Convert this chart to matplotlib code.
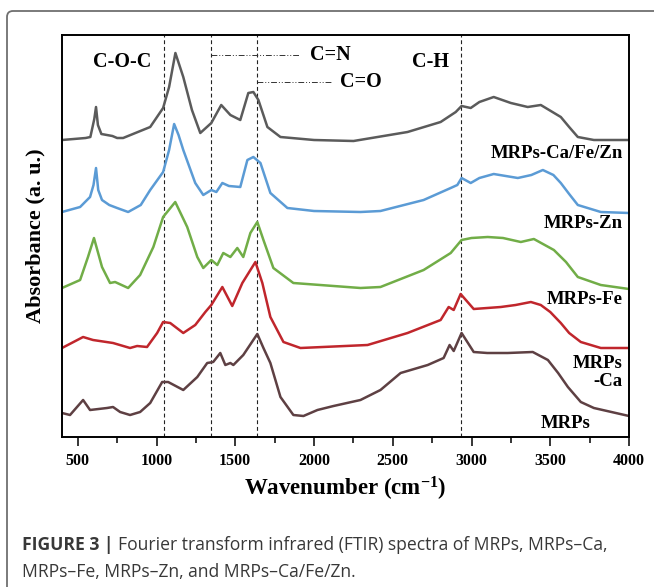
import numpy as np
import matplotlib
matplotlib.use('Agg')
import matplotlib.pyplot as plt
import matplotlib.ticker as ticker
from matplotlib.patches import FancyBboxPatch

# wavenumber (cm-1) / absorbance (a.u., offset already included)
wn_cafezn = [400, 550, 580, 605, 616, 628, 650, 720, 750, 788, 960, 1042, 1080, 1120, 1170, 1225, 1278,
             1348, 1411, 1469, 1532, 1583, 1615, 1647, 1704, 1787, 2000, 2251, 2594, 2804, 2900, 2937,
             2995, 3050, 3141, 3250, 3357, 3440, 3567, 3620, 3675, 3777, 4000]
ab_cafezn = [297, 299, 300, 318, 330, 312, 303, 301, 299, 299, 310, 329, 350, 384, 360, 327, 304,
             314, 332, 322, 317, 344, 345, 337, 310, 300, 297, 296, 305, 315, 325, 331,
             329, 335, 340, 334, 330, 332, 320, 310, 300, 297, 297]

wn_zn = [400, 515, 578, 600, 616, 630, 654, 700, 750, 820, 900, 960, 1042, 1080, 1112, 1140, 1170, 1246,
         1297, 1348, 1380, 1418, 1460, 1532, 1577, 1615, 1660, 1723, 1831, 2000, 2295, 2422, 2696, 2868,
         2910, 2937, 2995, 3050, 3141, 3294, 3380, 3453, 3520, 3567, 3620, 3675, 3821, 4000]
ab_zn = [225, 230, 240, 252, 269, 247, 237, 232, 229, 225, 232, 247, 265, 287, 313, 302, 287, 254,
         242, 247, 245, 254, 251, 250, 277, 280, 274, 244, 229, 226, 225, 226, 237, 249,
         252, 259, 254, 259, 263, 259, 262, 267, 262, 254, 243, 232, 225, 224]

wn_fe = [400, 515, 565, 603, 654, 705, 737, 820, 896, 980, 1042, 1119, 1195, 1259, 1297, 1348, 1386,
         1424, 1469, 1513, 1551, 1596, 1640, 1679, 1742, 1869, 2295, 2422, 2696, 2868, 2937, 3000,
         3103, 3200, 3313, 3396, 3523, 3600, 3675, 3821, 4000]
ab_fe = [149, 157, 180, 199, 170, 154, 155, 149, 162, 190, 220, 235, 210, 180, 169, 177, 172,
         184, 180, 189, 180, 204, 215, 197, 169, 154, 149, 150, 167, 184, 197, 199,
         200, 199, 195, 198, 187, 175, 160, 152, 148]

wn_ca = [400, 534, 597, 724, 832, 877, 940, 1004, 1042, 1087, 1170, 1246, 1310, 1348, 1418, 1481,
         1545, 1628, 1672, 1723, 1806, 1914, 2340, 2594, 2804, 2855, 2887, 2931, 3014, 3100, 3186,
         3280, 3377, 3440, 3500, 3567, 3620, 3694, 3821, 4000]
ab_ca = [89, 100, 97, 94, 89, 91, 90, 104, 115, 114, 104, 112, 125, 132, 150, 131,
         154, 175, 154, 120, 95, 89, 92, 104, 117, 130, 127, 143, 128, 129, 130,
         132, 135, 132, 125, 114, 104, 95, 89, 89]

wn_mrps = [400, 451, 534, 578, 686, 724, 769, 832, 896, 960, 1036, 1074, 1170, 1259, 1322, 1360, 1405,
           1437, 1469, 1488, 1551, 1640, 1679, 1723, 1787, 1869, 1933, 2022, 2124, 2295, 2422, 2550,
           2722, 2823, 2861, 2887, 2937, 3014, 3100, 3230, 3389, 3485, 3550, 3612, 3694, 3777, 4000]
ab_mrps = [24, 22, 37, 27, 29, 30, 25, 22, 25, 34, 55, 55, 47, 60, 74, 75, 84,
           72, 74, 72, 82, 103, 89, 74, 40, 22, 21, 27, 31, 37, 47, 64,
           72, 79, 92, 86, 104, 85, 84, 84, 85, 77, 64, 50, 35, 29, 21]

band_lines = [1045, 1345, 1640, 2935]

plt.rcParams['font.family'] = ['Liberation Serif', 'DejaVu Serif']
plt.rcParams['font.weight'] = 'bold'
plt.rcParams['axes.labelweight'] = 'bold'
plt.rcParams['mathtext.fontset'] = 'custom'
plt.rcParams['mathtext.rm'] = 'Liberation Serif:bold'
plt.rcParams['mathtext.bf'] = 'Liberation Serif:bold'
plt.rcParams['mathtext.default'] = 'bf'

fig = plt.figure(figsize=(6.54, 5.87), dpi=100)
ax = fig.add_axes([62/654, 1-437/587, 567/654, 402/587])

series = [
    (wn_cafezn, ab_cafezn, '#5b5b5b'),
    (wn_zn, ab_zn, '#5b9bd5'),
    (wn_fe, ab_fe, '#71ad47'),
    (wn_ca, ab_ca, '#c0262c'),
    (wn_mrps, ab_mrps, '#5e4043'),
]
for x, y, c in series:
    ax.plot(x, y, color=c, lw=1.8, solid_joinstyle='round')

for b in band_lines:
    ax.axvline(b, color='#222222', lw=0.8, ls=(0, (3.5, 2.5)), zorder=1)

# assignment markers
ax.plot([1345, 1914], [382, 382], color='#333333', lw=0.7, ls=(0, (6, 2, 1, 2, 1, 2)))
ax.plot([1640, 2105], [355, 355], color='#333333', lw=0.7, ls=(0, (6, 2, 1, 2, 1, 2)))
fs_ann = 14.5
ax.text(1977, 382, 'C=N', fontsize=fs_ann, ha='left', va='center')
ax.text(2168, 355, 'C=O', fontsize=fs_ann, ha='left', va='center')
ax.text(781, 375, 'C-O-C', fontsize=fs_ann, ha='center', va='center')
ax.text(2740, 375, 'C-H', fontsize=fs_ann, ha='center', va='center')

fs_lab = 13.5
ax.text(3960, 284, 'MRPs-Ca/Fe/Zn', fontsize=fs_lab, ha='right', va='center')
ax.text(3960, 214, 'MRPs-Zn', fontsize=fs_lab, ha='right', va='center')
ax.text(3960, 137, 'MRPs-Fe', fontsize=fs_lab, ha='right', va='center')
ax.text(3960, 74, 'MRPs', fontsize=fs_lab, ha='right', va='center')
ax.text(3960, 55, '-Ca', fontsize=fs_lab, ha='right', va='center')
ax.text(3600, 14, 'MRPs', fontsize=fs_lab, ha='center', va='center')

ax.set_xlim(400, 4000)
ax.set_ylim(0, 402)
ax.set_yticks([])
ax.xaxis.set_major_locator(ticker.MultipleLocator(500))
ax.xaxis.set_minor_locator(ticker.MultipleLocator(250))
ax.tick_params(axis='x', which='major', direction='out', length=6.5, width=1.1, labelsize=11.5, pad=5)
ax.tick_params(axis='x', which='minor', direction='out', length=4.3, width=1.1)
for s in ax.spines.values():
    s.set_linewidth(1.4)
ax.set_xlabel(r'Wavenumber (cm$^{-1}$)', fontsize=16.5, labelpad=4)
ax.set_ylabel('Absorbance (a. u.)', fontsize=16, labelpad=12)

# outer rounded frame of the figure panel
frame = FancyBboxPatch((7, -60), 720, 576 + 60, boxstyle='round,pad=0,rounding_size=6',
                       transform=None, fill=False, ec='#6f6f6f', lw=1.3)
fig.patches.append(frame)

# caption: bold lead-in + regular text, sized so line 1 spans the measured width
cap_col = '#383838'
cap_font = 'Open Sans'
fig.canvas.draw()
r = fig.canvas.get_renderer()
x0, y1, y2, x_end, gap = 22, 545, 572, 608, 5

t1 = fig.text(x0/654, 1-y1/587, 'FIGURE 3 |', family=cap_font, weight='bold', fontsize=10,
              color=cap_col, va='center')
t2 = fig.text(0, 1-y1/587, 'Fourier transform infrared (FTIR) spectra of MRPs, MRPs\u2013Ca,',
              family=cap_font, weight='normal', fontsize=10, color=cap_col, va='center')
w1 = t1.get_window_extent(r).width
w2 = t2.get_window_extent(r).width
fs = 10 * (x_end - x0 - gap) / (w1 + w2)
t1.set_fontsize(fs)
t2.set_fontsize(fs)
t2.set_x((x0 + w1 * fs / 10 + gap) / 654)
fig.text(x0/654, 1-y2/587, 'MRPs\u2013Fe, MRPs\u2013Zn, and MRPs\u2013Ca/Fe/Zn.',
         family=cap_font, weight='normal', fontsize=fs, color=cap_col, va='center')

fig.savefig('out.png', dpi=100)
